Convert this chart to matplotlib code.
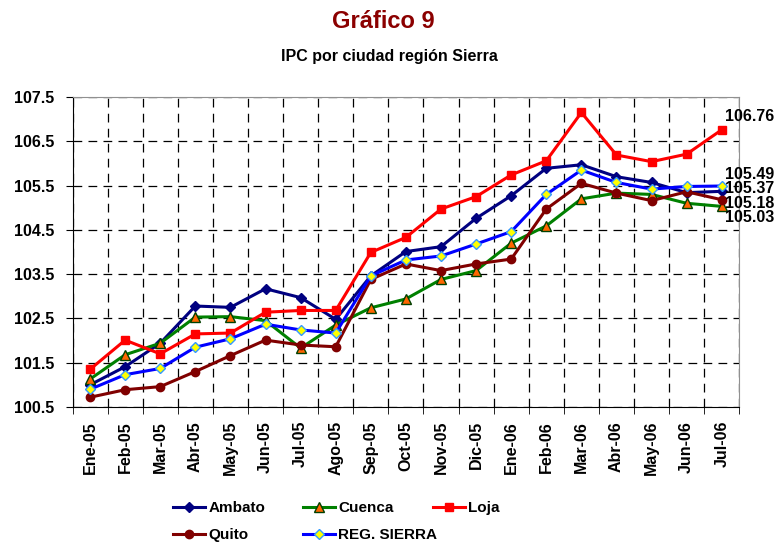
import matplotlib
matplotlib.use("Agg")
import matplotlib.pyplot as plt
import numpy as np

plt.rcParams['font.family'] = ['Liberation Sans', 'DejaVu Sans']

months = ["Ene-05", "Feb-05", "Mar-05", "Abr-05", "May-05", "Jun-05", "Jul-05",
          "Ago-05", "Sep-05", "Oct-05", "Nov-05", "Dic-05", "Ene-06", "Feb-06",
          "Mar-06", "Abr-06", "May-06", "Jun-06", "Jul-06"]

ambato = [101.00, 101.41, 101.94, 102.78, 102.75, 103.17, 102.97, 102.48, 103.46, 104.01,
          104.12, 104.76, 105.27, 105.89, 105.97, 105.70, 105.57, 105.34, 105.37]
cuenca = [101.13, 101.68, 101.94, 102.53, 102.54, 102.45, 101.83, 102.35, 102.74, 102.94,
          103.38, 103.58, 104.20, 104.59, 105.20, 105.33, 105.30, 105.10, 105.03]
loja = [101.35, 102.01, 101.70, 102.15, 102.17, 102.64, 102.68, 102.68, 103.99, 104.33,
        104.97, 105.25, 105.74, 106.06, 107.15, 106.19, 106.04, 106.21, 106.76]
quito = [100.72, 100.89, 100.96, 101.30, 101.66, 102.01, 101.90, 101.86, 103.38, 103.73,
         103.58, 103.73, 103.84, 104.97, 105.55, 105.33, 105.16, 105.36, 105.18]
sierra = [100.90, 101.23, 101.37, 101.85, 102.04, 102.37, 102.24, 102.17, 103.46, 103.82,
          103.91, 104.18, 104.46, 105.30, 105.85, 105.57, 105.42, 105.48, 105.49]

end_labels = ["106.76", "105.49", "105.37", "105.18", "105.03"]
yticks = [100.5, 101.5, 102.5, 103.5, 104.5, 105.5, 106.5, 107.5]

fig = plt.figure(figsize=(7.75, 5.45), dpi=100)
ax = fig.add_axes([72.5/775, 1-407/545, (739.3-72.5)/775, (407-97)/545])

x = np.arange(len(months))
h_amb, = ax.plot(x, ambato, color='#000080', lw=2.2, marker='D', ms=5, mfc='#000080', mec='#000080', label='Ambato', zorder=3)
h_cue, = ax.plot(x, cuenca, color='#008000', lw=2.2, marker='^', ms=6.5, mfc='#FF6600', mec='#004000', mew=1, label='Cuenca', zorder=3)
h_loj, = ax.plot(x, loja, color='#FF0000', lw=2.2, marker='s', ms=6, mfc='#FF0000', mec='#FF0000', label='Loja', zorder=3)
h_qui, = ax.plot(x, quito, color='#800000', lw=2.2, marker='o', ms=6, mfc='#800000', mec='#800000', label='Quito', zorder=3)
h_sie, = ax.plot(x, sierra, color='#0000FF', lw=2.2, marker='D', ms=5, mfc='#FFFF00', mec='#3399FF', mew=1, label='REG. SIERRA', zorder=4)

ax.set_xlim(-0.5, len(months) - 0.5)
ax.set_ylim(yticks[0], yticks[-1])
ax.set_yticks(yticks)
ax.set_yticklabels([f"{v:.1f}" for v in yticks], fontsize=11.5, fontweight='bold')
ax.set_xticks(x)
ax.set_xticklabels(months, rotation=90, fontsize=11.5, fontweight='bold')
ax.set_xticks(np.arange(len(months) + 1) - 0.5, minor=True)
ax.tick_params(axis='x', which='major', length=0, pad=10)
ax.tick_params(axis='x', which='minor', length=5, direction='out', color='black')
ax.tick_params(axis='y', length=5, direction='out', pad=8)

ax.grid(False)
ax.xaxis.grid(True, which='minor', ls=(0, (7, 5)), color='black', lw=0.9)
ax.yaxis.grid(True, which='major', ls=(0, (7, 5)), color='black', lw=0.9)
ax.set_axisbelow(True)

for s in ['top', 'right']:
    ax.spines[s].set_color('#909090')
for s in ['left', 'bottom']:
    ax.spines[s].set_color('black')

last = len(months) - 1
offsets = [-13, -12, -3, 4, 11]
series_end = [loja, sierra, ambato, quito, cuenca]
for lab, ser, off in zip(end_labels, series_end, offsets):
    ax.annotate(lab, (last, ser[-1]), xytext=(3, -off), textcoords='offset pixels',
                ha='left', va='center', fontsize=11.5, fontweight='bold', annotation_clip=False)

fig.text(383/775, 1-22/545, "Gráfico 9", ha='center', va='center', fontsize=17,
         fontweight='bold', color='#8B0000')
fig.text(389/775, 1-57/545, "IPC por ciudad región Sierra", ha='center', va='center',
         fontsize=11.5, fontweight='bold')

# legend entries placed in a fixed grid like the original
entries = [(h_amb, 'Ambato', 173, 508), (h_cue, 'Cuenca', 303, 508), (h_loj, 'Loja', 433, 508),
           (h_qui, 'Quito', 173, 535), (h_sie, 'REG. SIERRA', 303, 535)]
for h, lab, px, py in entries:
    lg = fig.legend([h], [lab], loc='center left', bbox_to_anchor=(px/775, 1-py/545),
                    frameon=False, prop={'weight': 'bold', 'size': 11}, handlelength=2.1,
                    handletextpad=0.2, borderpad=0, borderaxespad=0)

fig.savefig("out.png", dpi=100)
